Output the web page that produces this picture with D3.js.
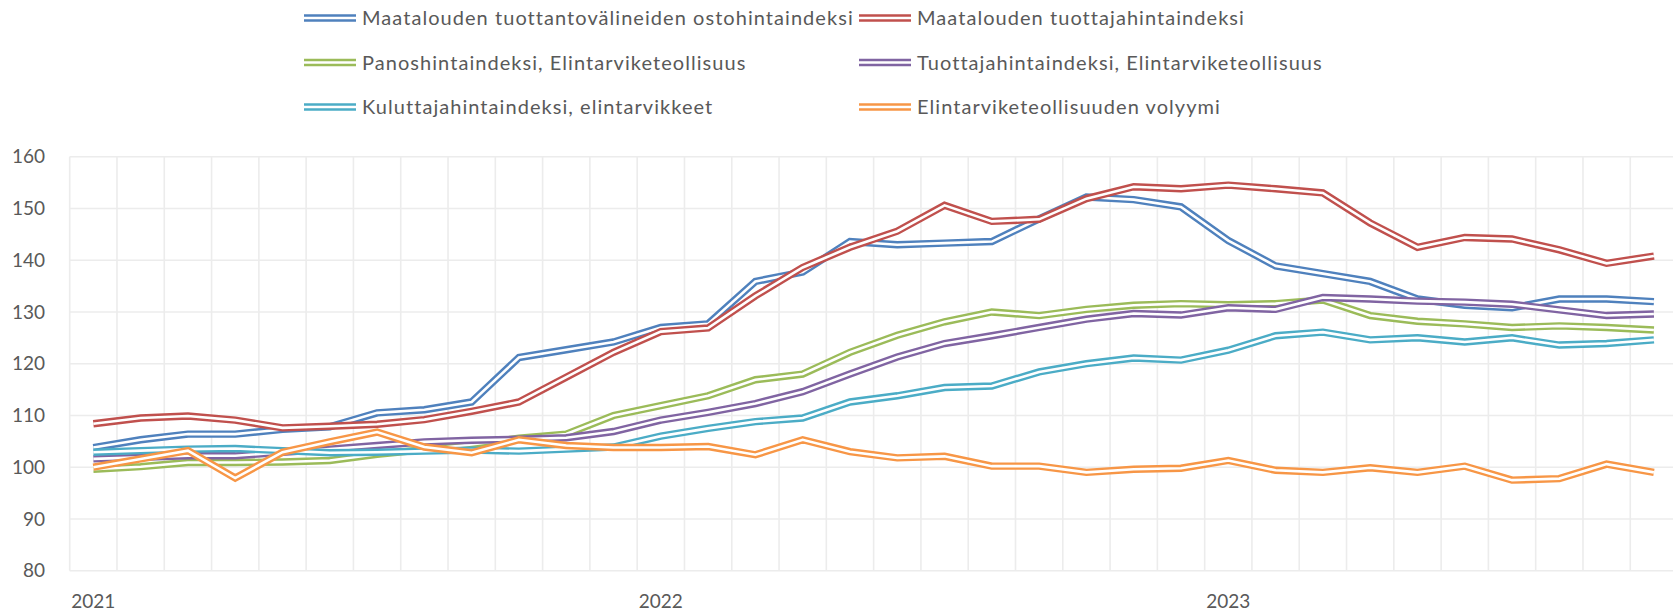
<!DOCTYPE html>
<html>
<head>
<meta charset="utf-8">
<script src="https://cdn.jsdelivr.net/npm/d3@7"></script>
<style>
  body { margin: 0; background: #fff; }
  text { font-family: Lato, "Open Sans", sans-serif; fill: #595959; }
</style>
</head>
<body>
<div id="chart"></div>
<script>
// Months on the category axis
var months = [
  "2021-01", "2021-02", "2021-03", "2021-04", "2021-05", "2021-06",
  "2021-07", "2021-08", "2021-09", "2021-10", "2021-11", "2021-12",
  "2022-01", "2022-02", "2022-03", "2022-04", "2022-05", "2022-06",
  "2022-07", "2022-08", "2022-09", "2022-10", "2022-11", "2022-12",
  "2023-01", "2023-02", "2023-03", "2023-04", "2023-05", "2023-06",
  "2023-07", "2023-08", "2023-09", "2023-10"
];

// Labels shown under the axis
var yearTicks = ["2021-01", "2022-01", "2023-01"];
var yTicks = [80, 90, 100, 110, 120, 130, 140, 150, 160];

var seriesNames = [
  "Maatalouden tuottantovälineiden ostohintaindeksi",
  "Maatalouden tuottajahintaindeksi",
  "Panoshintaindeksi, Elintarviketeollisuus",
  "Tuottajahintaindeksi, Elintarviketeollisuus",
  "Kuluttajahintaindeksi, elintarvikkeet",
  "Elintarviketeollisuuden volyymi"
];

var ostohinta = [103.8, 105.3, 106.4, 106.4, 107.3, 107.8, 110.5, 111.1, 112.6,
  121.2, 122.7, 124.2, 127.0, 127.7, 135.9, 137.7, 143.6, 143.0,
  143.3, 143.6, 148.0, 152.2, 151.7, 150.3, 143.8, 138.9, 137.4,
  135.9, 132.5, 131.3, 130.8, 132.5, 132.5, 132.0];

var tuottajahinta = [108.4, 109.5, 109.9, 109.1, 107.6, 107.9, 108.3, 109.2, 110.8,
  112.6, 117.4, 122.2, 126.2, 126.9, 133.1, 138.6, 142.5, 145.6,
  150.6, 147.5, 147.9, 151.9, 154.2, 153.8, 154.5, 153.8, 153.0,
  147.2, 142.5, 144.4, 144.1, 142.0, 139.4, 140.8];

var panoshinta = [99.6, 100.1, 100.9, 100.9, 101.0, 101.3, 102.5, 103.4, 104.4,
  105.6, 106.4, 110.0, 111.9, 113.8, 116.9, 118.0, 122.2, 125.5,
  128.1, 130.0, 129.3, 130.5, 131.3, 131.6, 131.4, 131.6, 132.3,
  129.3, 128.2, 127.7, 127.0, 127.3, 127.0, 126.5];

var tuottajaEt = [101.6, 101.9, 102.2, 102.2, 102.9, 103.5, 104.2, 104.9, 105.2,
  105.4, 105.7, 106.9, 109.1, 110.6, 112.3, 114.6, 118.0, 121.3,
  123.9, 125.4, 127.0, 128.6, 129.7, 129.4, 130.8, 130.5, 132.8,
  132.5, 132.1, 131.9, 131.5, 130.4, 129.3, 129.6];

var kuluttaja = [102.9, 103.2, 103.5, 103.6, 103.2, 102.8, 102.9, 103.1, 103.3,
  103.1, 103.5, 103.9, 106.0, 107.5, 108.8, 109.5, 112.6, 113.8,
  115.4, 115.7, 118.4, 120.0, 121.1, 120.7, 122.6, 125.4, 126.1,
  124.6, 125.0, 124.2, 125.0, 123.6, 123.9, 124.6];

var volyymi = [100.0, 101.6, 103.2, 97.9, 102.9, 104.9, 106.8, 103.9, 102.8,
  105.3, 104.2, 103.8, 103.8, 104.0, 102.4, 105.3, 103.0, 101.8,
  102.1, 100.2, 100.2, 99.0, 99.6, 99.8, 101.3, 99.4, 99.0,
  99.9, 99.0, 100.2, 97.5, 97.8, 100.6, 99.0];

var colors = ["#4F81BD", "#C0504D", "#9BBB59", "#8064A2", "#4BACC6", "#F79646"];

var allSeries = [ostohinta, tuottajahinta, panoshinta, tuottajaEt, kuluttaja, volyymi];

// SVG area
var svgWidth = 1673;
var svgHeight = 612;

// Plot area (the chart runs a little past the right edge of the picture)
var plotLeft = 69.7;
var plotTop = 156.7;
var plotBottom = 570.7;
var step = 47.29;
var plotRight = plotLeft + step * months.length;

var svg = d3.select("#chart")
  .append("svg")
  .attr("width", svgWidth)
  .attr("height", svgHeight);

var xBandScale = d3.scaleBand()
  .domain(months)
  .range([plotLeft, plotRight]);

var yLinearScale = d3.scaleLinear()
  .domain([80, 160])
  .range([plotBottom, plotTop]);

// Gridlines
var grid = svg.append("g");

grid.selectAll(".hgrid")
  .data(yTicks)
  .enter().append("line")
  .attr("x1", plotLeft)
  .attr("x2", plotRight)
  .attr("y1", d => yLinearScale(d))
  .attr("y2", d => yLinearScale(d))
  .attr("stroke", "#ececec")
  .attr("stroke-width", 1.6);

grid.selectAll(".vgrid")
  .data(months.concat(["end"]))
  .enter().append("line")
  .attr("x1", d => d === "end" ? plotRight : xBandScale(d))
  .attr("x2", d => d === "end" ? plotRight : xBandScale(d))
  .attr("y1", plotTop)
  .attr("y2", plotBottom)
  .attr("stroke", "#ececec")
  .attr("stroke-width", 1.6);

// Axes (text only)
var leftAxis = d3.axisLeft(yLinearScale)
  .tickValues(yTicks)
  .tickSize(0)
  .tickPadding(0);

var yAxisGroup = svg.append("g")
  .attr("transform", "translate(45, 0)")
  .call(leftAxis);
yAxisGroup.select(".domain").remove();
yAxisGroup.selectAll("text")
  .attr("font-size", 19)
  .attr("font-family", null)
  .attr("fill", null);

var bottomAxis = d3.axisBottom(xBandScale)
  .tickValues(yearTicks)
  .tickFormat(d => d.slice(0, 4))
  .tickSize(0)
  .tickPadding(0);

var xAxisGroup = svg.append("g")
  .attr("transform", "translate(0, 594)")
  .call(bottomAxis);
xAxisGroup.select(".domain").remove();
xAxisGroup.selectAll("text")
  .attr("font-size", 19)
  .attr("font-family", null)
  .attr("fill", null);

// Double lines: a wide coloured stroke with a thin white stroke on top
var drawLine = d3.line()
  .x((d, i) => xBandScale(months[i]) + xBandScale.bandwidth() / 2)
  .y(d => yLinearScale(d));

allSeries.forEach(function(values, s) {
  var g = svg.append("g");
  g.append("path")
    .attr("d", drawLine(values))
    .attr("fill", "none")
    .attr("stroke", colors[s])
    .attr("stroke-width", 7.4)
    .attr("stroke-linejoin", "miter");
  g.append("path")
    .attr("d", drawLine(values))
    .attr("fill", "none")
    .attr("stroke", "#fff")
    .attr("stroke-width", 2.6)
    .attr("stroke-linejoin", "miter");
});

// Legend, two columns
var legendCols = [304, 859];
var legendRows = [18, 62.5, 107];

var legend = svg.append("g");
seriesNames.forEach(function(name, s) {
  var lx = legendCols[s % 2];
  var ly = legendRows[Math.floor(s / 2)];
  legend.append("line")
    .attr("x1", lx).attr("x2", lx + 52)
    .attr("y1", ly).attr("y2", ly)
    .attr("stroke", colors[s])
    .attr("stroke-width", 7.4);
  legend.append("line")
    .attr("x1", lx).attr("x2", lx + 52)
    .attr("y1", ly).attr("y2", ly)
    .attr("stroke", "#fff")
    .attr("stroke-width", 2.6);
  legend.append("text")
    .attr("x", lx + 58)
    .attr("y", ly)
    .attr("dy", "0.35em")
    .attr("font-size", 20)
    .attr("letter-spacing", "1.05px")
    .text(name);
});
</script>
</body>
</html>
